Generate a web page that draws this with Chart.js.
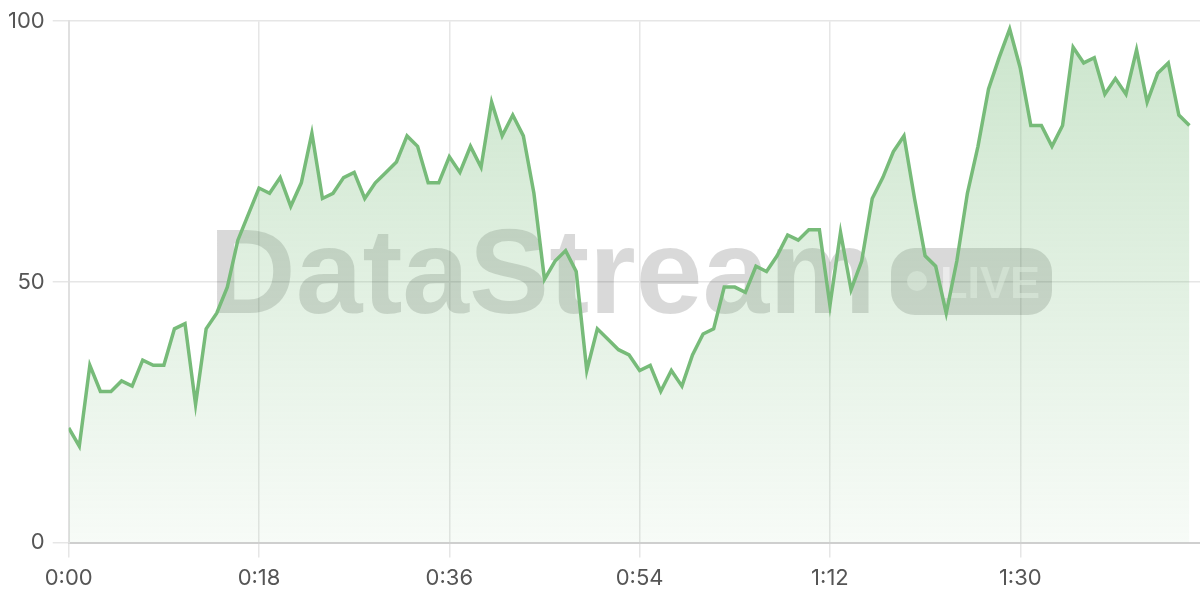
<!DOCTYPE html>
<html>
<head>
<meta charset="utf-8">
<script src="https://cdn.jsdelivr.net/npm/chart.js@4"></script>
<style>
  html, body { margin: 0; padding: 0; background: #fff; }
  #wrap { width: 1200px; height: 600px; }
</style>
</head>
<body>
<div id="wrap"><canvas id="myChart"></canvas></div>
<script>
// seconds elapsed for each sample
const seconds = [
  0, 1, 2, 3, 4, 5, 6, 7, 8, 9,
  10, 11, 12, 13, 14, 15, 16, 17, 18, 19,
  20, 21, 22, 23, 24, 25, 26, 27, 28, 29,
  30, 31, 32, 33, 34, 35, 36, 37, 38, 39,
  40, 41, 42, 43, 44, 45, 46, 47, 48, 49,
  50, 51, 52, 53, 54, 55, 56, 57, 58, 59,
  60, 61, 62, 63, 64, 65, 66, 67, 68, 69,
  70, 71, 72, 73, 74, 75, 76, 77, 78, 79,
  80, 81, 82, 83, 84, 85, 86, 87, 88, 89,
  90, 91, 92, 93, 94, 95, 96, 97, 98, 99,
  100, 101, 102, 103, 104, 105, 106
];

// stream values
const streamValues = [
  22, 18.5, 34, 29, 29, 31, 30, 35, 34, 34,
  41, 42, 26.5, 41, 44, 49, 58, 63, 68, 67,
  70, 64.5, 69, 78.5, 66, 67, 70, 71, 66, 69,
  71, 73, 78, 76, 69, 69, 74, 71, 76, 72,
  84.5, 78, 82, 78, 67, 50.5, 54, 56, 52, 33,
  41, 39, 37, 36, 33, 34, 29, 33, 30, 36,
  40, 41, 49, 49, 48, 53, 52, 55, 59, 58,
  60, 60, 45.5, 59.5, 48.5, 54, 66, 70, 75, 78,
  66, 55, 53, 44, 54, 67, 76, 87, 93, 98.5,
  91, 80, 80, 76, 80, 95, 92, 93, 86, 89,
  86, 94.5, 84.5, 90, 92, 82, 80
];

// axis ranges / ticks
const xMax = 107;
const xStep = 18;
const yTicks = [0, 50, 100];

const watermarkText = "DataStream";
const badgeText = "LIVE";

function fmtTime(s) {
  const m = Math.floor(s / 60);
  const sec = s % 60;
  return m + ":" + (sec < 10 ? "0" : "") + sec;
}

// watermark drawn under the line
const watermark = {
  id: "watermark",
  beforeDatasetsDraw(chart) {
    const ctx = chart.ctx;
    ctx.save();
    ctx.fillStyle = "rgba(0,0,0,0.15)";
    ctx.font = "bold 120px 'Liberation Sans', Arial, sans-serif";
    ctx.textBaseline = "alphabetic";
    ctx.textAlign = "left";
    ctx.fillText(watermarkText, 209, 313);

    // LIVE pill
    ctx.beginPath();
    ctx.roundRect(891, 248, 161, 67, 24);
    ctx.fill();
    ctx.fillStyle = "rgba(255,255,255,0.45)";
    ctx.beginPath();
    ctx.arc(917, 281, 10, 0, Math.PI * 2);
    ctx.fill();
    ctx.font = "bold 45px 'Liberation Sans', Arial, sans-serif";
    ctx.fillText(badgeText, 940, 298);
    ctx.restore();
  },
};

const points = seconds.map((s, i) => ({ x: s, y: streamValues[i] }));

const data = {
  datasets: [
    {
      data: points,
      borderColor: "#77bb79",
      borderWidth: 3.5,
      pointRadius: 0,
      tension: 0,
      fill: "origin",
      backgroundColor: function (context) {
        const area = context.chart.chartArea;
        if (!area) return "rgba(119,187,121,0.2)";
        const g = context.chart.ctx.createLinearGradient(0, area.top, 0, area.bottom);
        g.addColorStop(0, "rgba(119,187,121,0.38)");
        g.addColorStop(1, "rgba(119,187,121,0.06)");
        return g;
      },
    },
  ],
};

const config = {
  type: "line",
  data,
  plugins: [watermark],
  options: {
    responsive: true,
    maintainAspectRatio: false,
    animation: false,
    layout: { padding: { top: 8, right: 0, bottom: 0, left: 0 } },
    plugins: {
      legend: { display: false },
      tooltip: { enabled: false },
    },
    scales: {
      x: {
        type: "linear",
        min: 0,
        max: xMax,
        grid: { color: "#e6e6e6", tickLength: 15, lineWidth: 1.5 },
        border: { color: "#cfcfcf", width: 2 },
        ticks: {
          stepSize: xStep,
          includeBounds: false,
          autoSkip: false,
          maxRotation: 0,
          padding: 8,
          color: "#555",
          font: { family: "Inter, 'Noto Sans', sans-serif", size: 22 },
          callback: (v) => fmtTime(v),
        },
      },
      y: {
        min: 0,
        max: 100,
        afterBuildTicks: (axis) => {
          axis.ticks = yTicks.map((v) => ({ value: v }));
        },
        grid: { color: "#e6e6e6", tickLength: 16, lineWidth: 1.5 },
        border: { color: "#e0e0e0", width: 2 },
        ticks: {
          padding: 8,
          color: "#555",
          font: { family: "Inter, 'Noto Sans', sans-serif", size: 22 },
        },
      },
    },
  },
};

const myChart = new Chart(document.getElementById("myChart"), config);
</script>
</body>
</html>
